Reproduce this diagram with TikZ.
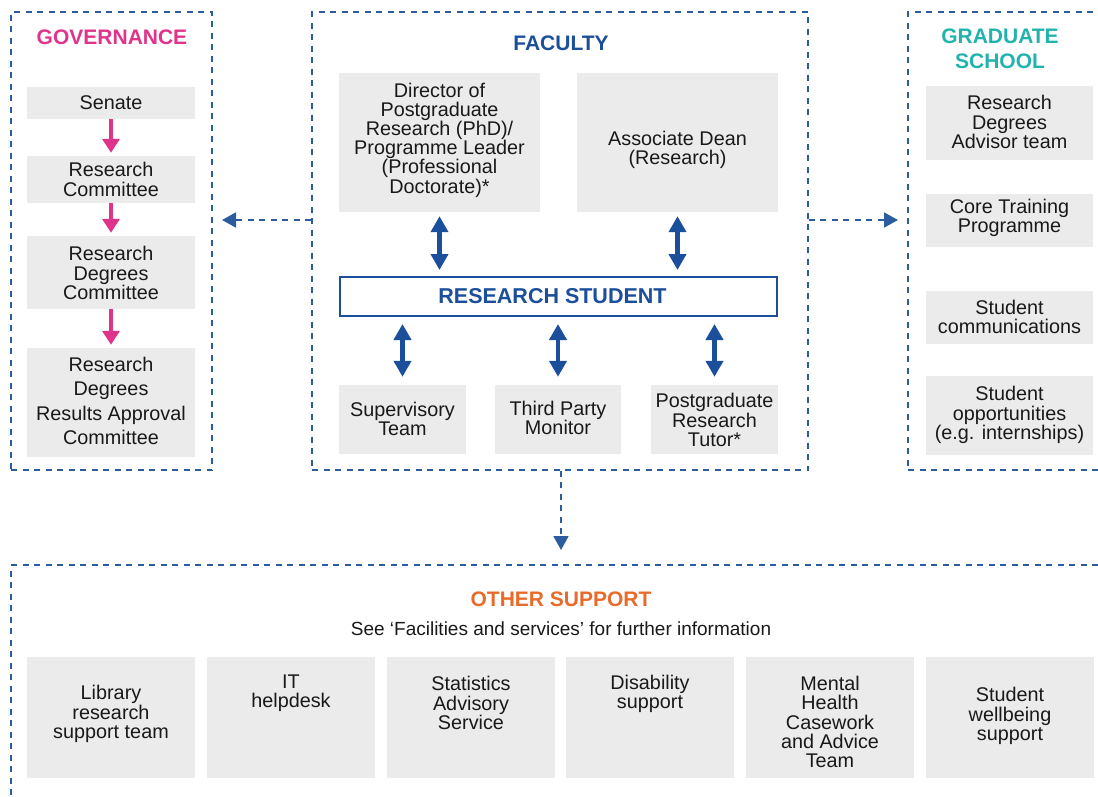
\documentclass[tikz,border=0pt]{standalone}
\usepackage{fontspec}
\setmainfont{Liberation Sans}
\usetikzlibrary{arrows.meta,calc}
\definecolor{dblue}{HTML}{2B5C9E}
\definecolor{sblue}{HTML}{1B4E9B}
\definecolor{gpink}{HTML}{E0338A}
\definecolor{gteal}{HTML}{22B3AC}
\definecolor{sorange}{HTML}{EA6A2A}
\definecolor{gfill}{HTML}{EBEBEB}
\newcommand\gbx[7]{%
  \node[gbox, minimum width={(#4-#2)*1pt}, minimum height={(#5-#3)*1pt}] (#1) at ({(#2+#4)/2},{(#3+#5)/2}) {};
  \node[txt] (#1t) at ({(#2+#4)/2},#7) {#6};}
\begin{document}
\begin{tikzpicture}[x=1pt,y=-1pt,
 dbox/.style={draw=dblue, line width=1.8pt, dash pattern=on 6pt off 5.5pt, rectangle, inner sep=0pt},
 gbox/.style={fill=gfill, rectangle, inner sep=0pt},
 txt/.style={align=center, font=\fontsize{19.8}{19.2}\selectfont, text=black!90, inner sep=0pt},
 ttl/.style={font=\fontsize{21}{25}\selectfont\bfseries, align=center, inner sep=0pt},
 dbl/.style={draw=sblue, line width=4.5pt, {Triangle[width=17pt,length=16pt]}-{Triangle[width=17pt,length=16pt]}},
 parr/.style={draw=gpink, line width=3.5pt, -{Triangle[width=17pt,length=14pt]}},
 darr/.style={draw=dblue, line width=1.8pt, dash pattern=on 6pt off 5.5pt, -{Triangle[width=15pt,length=14pt]}},
]
\useasboundingbox (0,0) rectangle (1098,796);
\clip (0,0) rectangle (1098,796);

% dashed containers
\node[dbox, minimum width=201pt, minimum height=458pt] (gov) at (111.5,241) {};
\node[dbox, minimum width=496pt, minimum height=458pt] (fac) at (560,241) {};
\node[dbox, minimum width=220pt, minimum height=458pt] (grad) at (1018,241) {};
\node[dbox, minimum width=1120pt, minimum height=250pt] (oth) at (571,690) {};

% titles
\node[ttl, text=gpink] (govt) at (112,37) {GOVERNANCE};
\node[ttl, text=sblue] (fact) at (561,43) {FACULTY};
\node[ttl, text=gteal] (gradt) at (1000,49) {GRADUATE\\SCHOOL};
\node[ttl, text=sorange] (otht) at (561,599) {OTHER SUPPORT};
\node[txt, font=\fontsize{19}{20}\selectfont] (oths) at (561,629) {See ‘Facilities and services’ for further information};

% governance
\gbx{sen}{27}{87}{195}{119}{Senate}{103}
\gbx{rc}{27}{156}{195}{203}{Research\\Committee}{179.5}
\gbx{rdc}{27}{236}{195}{309}{Research\\Degrees\\Committee}{273}
\node[gbox, minimum width=168pt, minimum height=109pt] (rdrac) at (111,402.5) {};
\node[txt, font=\fontsize{19.8}{24.2}\selectfont] (rdract) at (111,401) {Research\\Degrees\\Results Approval\\Committee};
\draw[parr, shorten >=3pt] (sen.south) -- (rc.north);
\draw[parr, shorten >=3pt] (rc.south) -- (rdc.north);
\draw[parr, shorten >=3pt] (rdc.south) -- (rdrac.north);

% faculty
\gbx{dir}{339}{73}{540}{212}{Director of\\Postgraduate\\Research (PhD)/\\Programme Leader\\(Professional\\Doctorate)*}{140}
\gbx{ad}{577}{73}{778}{212}{Associate Dean\\(Research)}{150}
\node[draw=sblue, line width=2pt, fill=white, minimum width=437pt, minimum height=39pt, inner sep=0pt] (stud) at (558.5,296.5) {};
\node[font=\fontsize{21.5}{24}\selectfont\bfseries, text=sblue, inner sep=0pt] (studt) at (552.5,296.5) {RESEARCH STUDENT};
\gbx{sup}{339}{385}{466}{454}{Supervisory\\Team}{419}
\gbx{tpm}{495}{385}{621}{454}{Third Party\\Monitor}{418}
\gbx{pgt}{651}{385}{778}{454}{Postgraduate\\Research\\Tutor*}{420}
\draw[dbl, shorten <=4pt, shorten >=6pt] (dir.south) -- (dir.south |- stud.north);
\draw[dbl, shorten <=4pt, shorten >=6pt] (ad.south) -- (ad.south |- stud.north);
\draw[dbl, shorten <=7pt, shorten >=8pt] (stud.south -| sup.north) -- (sup.north);
\draw[dbl, shorten <=7pt, shorten >=8pt] (stud.south -| tpm.north) -- (tpm.north);
\draw[dbl, shorten <=7pt, shorten >=8pt] (stud.south -| pgt.north) -- (pgt.north);

% graduate school
\gbx{rda}{926}{86}{1093}{160}{Research\\Degrees\\Advisor team}{122}
\gbx{ctp}{926}{194}{1093}{247}{Core Training\\Programme}{218}
\gbx{scm}{926}{291}{1093}{344}{Student\\communications}{317}
\gbx{sop}{926}{376}{1093}{455}{Student\\opportunities\\(e.g. internships)}{415}

% other support
\gbx{lib}{27}{657}{195}{778}{Library\\research\\support team}{714}
\gbx{ith}{207}{657}{375}{778}{IT\\helpdesk}{693.5}
\gbx{sta}{387}{657}{555}{778}{Statistics\\Advisory\\Service}{703}
\gbx{dis}{566}{657}{734}{778}{Disability\\support}{693.5}
\gbx{mhc}{746}{657}{914}{778}{Mental\\Health\\Casework\\and Advice\\Team}{722}
\gbx{swb}{926}{657}{1094}{778}{Student\\wellbeing\\support}{716}

% dashed connectors
\coordinate (gl) at (222,220);
\coordinate (gr) at (898,220);
\coordinate (gd) at (561,550);
\draw[darr] (fac.west |- gl) -- (gl);
\draw[darr] (fac.east |- gr) -- (gr);
\draw[darr] (fac.south -| gd) -- (gd);
\end{tikzpicture}
\end{document}
